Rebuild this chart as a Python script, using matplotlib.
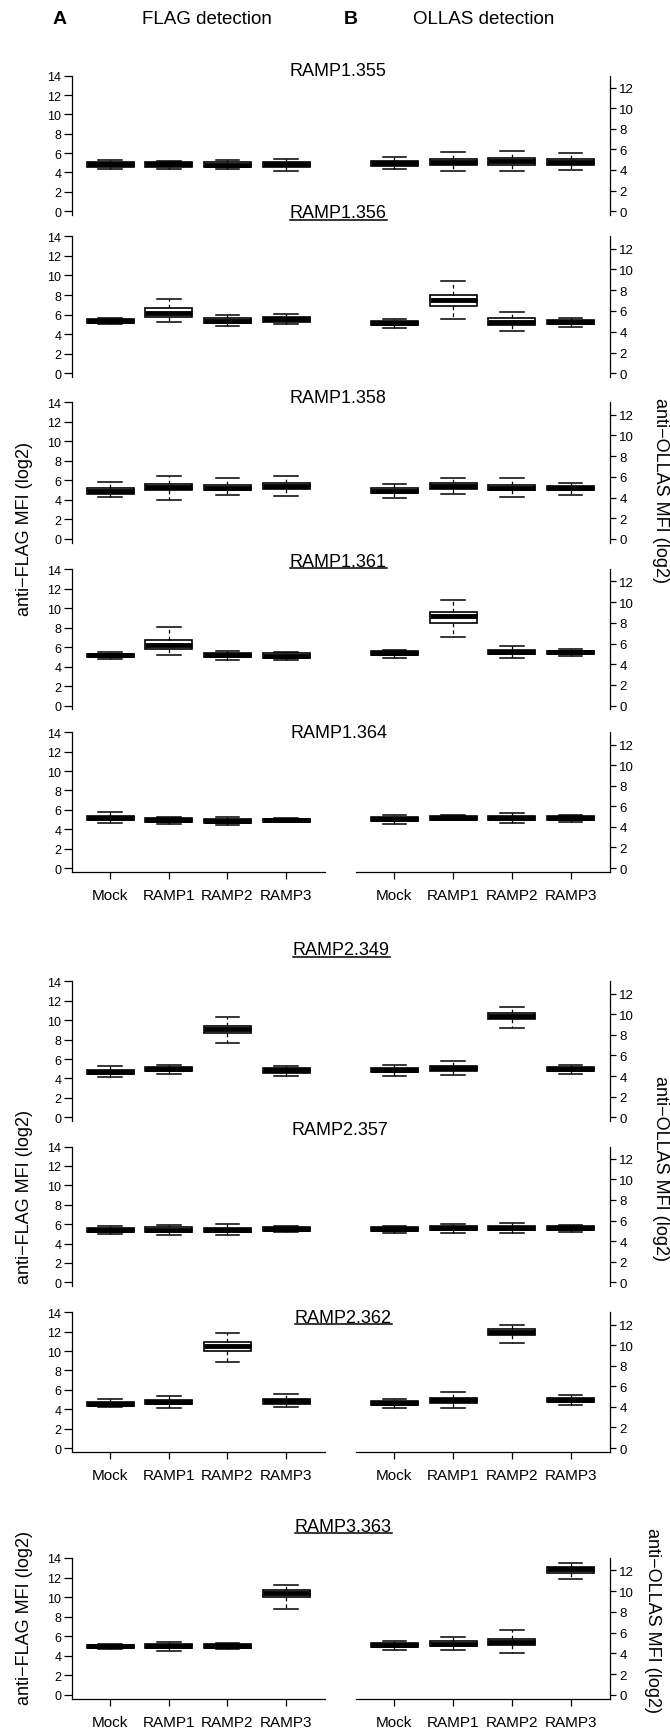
import matplotlib
matplotlib.use('Agg')
import matplotlib.pyplot as plt
from matplotlib.lines import Line2D

plt.rcParams['font.family'] = ['Liberation Sans', 'DejaVu Sans']

W, H = 670, 1731
groups = ['Mock', 'RAMP1', 'RAMP2', 'RAMP3']

# box stats per group: [lower whisker, Q1, median, Q3, upper whisker]
r1_355_flag = [[4.38, 4.60, 4.84, 5.08, 5.32], [4.36, 4.58, 4.82, 5.03, 5.20],
               [4.30, 4.57, 4.78, 5.03, 5.25], [4.16, 4.60, 4.82, 5.06, 5.37]]
r1_355_ollas = [[4.10, 4.42, 4.66, 4.87, 5.22], [3.90, 4.48, 4.80, 5.11, 5.74],
                [3.90, 4.50, 4.85, 5.15, 5.90], [4.00, 4.52, 4.82, 5.12, 5.63]]
r1_356_flag = [[5.01, 5.18, 5.38, 5.55, 5.69], [5.25, 5.79, 6.18, 6.64, 7.63],
               [4.84, 5.18, 5.38, 5.62, 5.96], [5.01, 5.28, 5.52, 5.76, 6.10]]
r1_356_ollas = [[4.34, 4.66, 4.86, 5.05, 5.27], [5.27, 6.46, 7.07, 7.52, 8.87],
                [4.12, 4.66, 4.98, 5.31, 5.88], [4.47, 4.76, 4.92, 5.11, 5.34]]
r1_358_flag = [[4.30, 4.57, 4.88, 5.19, 5.87], [4.03, 4.98, 5.29, 5.67, 6.49],
               [4.51, 4.98, 5.26, 5.53, 6.21], [4.37, 5.09, 5.43, 5.74, 6.42]]
r1_358_ollas = [[3.99, 4.44, 4.67, 4.92, 5.28], [4.34, 4.86, 5.12, 5.37, 5.89],
                [4.09, 4.70, 4.95, 5.21, 5.86], [4.28, 4.70, 4.89, 5.08, 5.44]]
r1_361_flag = [[4.78, 4.98, 5.16, 5.33, 5.46], [5.16, 5.77, 6.21, 6.73, 8.02],
               [4.71, 4.95, 5.19, 5.43, 5.63], [4.64, 4.88, 5.12, 5.36, 5.53]]
r1_361_ollas = [[4.63, 4.86, 5.08, 5.28, 5.41], [6.60, 8.01, 8.62, 9.04, 10.23],
                [4.60, 4.95, 5.18, 5.37, 5.79], [4.76, 4.99, 5.15, 5.31, 5.47]]
r1_364_flag = [[4.62, 4.93, 5.14, 5.38, 5.79], [4.52, 4.72, 4.93, 5.14, 5.24],
               [4.45, 4.66, 4.86, 5.10, 5.28], [4.72, 4.76, 4.93, 5.10, 5.21]]
r1_364_ollas = [[4.32, 4.61, 4.81, 5.00, 5.13], [4.68, 4.70, 4.87, 5.06, 5.13],
                [4.35, 4.65, 4.84, 5.03, 5.32], [4.48, 4.68, 4.87, 5.06, 5.19]]
r2_349_flag = [[4.15, 4.43, 4.67, 4.91, 5.28], [4.43, 4.74, 4.94, 5.15, 5.42],
               [7.69, 8.68, 9.06, 9.44, 10.36], [4.22, 4.60, 4.84, 5.04, 5.28]]
r2_349_ollas = [[3.97, 4.38, 4.61, 4.80, 5.12], [4.06, 4.51, 4.77, 5.02, 5.50],
                [8.70, 9.50, 9.82, 10.14, 10.66], [4.22, 4.45, 4.67, 4.86, 5.12]]
r2_357_flag = [[5.01, 5.21, 5.42, 5.62, 5.83], [4.83, 5.18, 5.42, 5.66, 5.86],
               [4.87, 5.14, 5.38, 5.59, 5.97], [5.21, 5.31, 5.52, 5.73, 5.83]]
r2_357_ollas = [[4.80, 5.00, 5.19, 5.35, 5.48], [4.80, 5.06, 5.25, 5.48, 5.64],
                [4.83, 5.09, 5.29, 5.48, 5.77], [4.90, 5.06, 5.25, 5.45, 5.61]]
r2_362_flag = [[4.27, 4.37, 4.58, 4.78, 5.06], [4.09, 4.51, 4.75, 4.99, 5.33],
               [8.84, 10.04, 10.49, 10.97, 11.90], [4.20, 4.54, 4.82, 5.06, 5.54]]
r2_362_ollas = [[3.92, 4.22, 4.41, 4.61, 4.77], [3.92, 4.41, 4.67, 4.90, 5.42],
                [10.22, 11.00, 11.29, 11.61, 11.97], [4.22, 4.44, 4.64, 4.83, 5.19]]
r3_363_flag = [[4.67, 4.77, 4.97, 5.14, 5.25], [4.53, 4.77, 5.01, 5.21, 5.45],
               [4.67, 4.80, 5.01, 5.21, 5.35], [8.79, 9.98, 10.42, 10.76, 11.24]]
r3_363_ollas = [[4.33, 4.59, 4.78, 4.97, 5.17], [4.33, 4.69, 4.94, 5.17, 5.61],
                [4.07, 4.81, 5.10, 5.42, 6.26], [11.13, 11.77, 12.10, 12.35, 12.70]]

# name, underlined, y of 14 tick, y of 0 tick, title (x, baseline) in px, x axis shown
panels = [
    ('RAMP1.355', False, 76.7, 212.0, (338, 76.0), False, r1_355_flag, r1_355_ollas),
    ('RAMP1.356', True, 237.3, 374.3, (338, 218.3), False, r1_356_flag, r1_356_ollas),
    ('RAMP1.358', False, 403.3, 540.0, (338, 403.3), False, r1_358_flag, r1_358_ollas),
    ('RAMP1.361', True, 570.0, 706.7, (338, 566.7), False, r1_361_flag, r1_361_ollas),
    ('RAMP1.364', False, 733.3, 869.0, (339, 738.3), True, r1_364_flag, r1_364_ollas),
    ('RAMP2.349', True, 982.3, 1118.3, (341, 955.0), False, r2_349_flag, r2_349_ollas),
    ('RAMP2.357', False, 1147.5, 1283.3, (340, 1135.0), False, r2_357_flag, r2_357_ollas),
    ('RAMP2.362', True, 1313.3, 1449.0, (343, 1322.7), True, r2_362_flag, r2_362_ollas),
    ('RAMP3.363', True, 1559.0, 1696.0, (343, 1531.7), True, r3_363_flag, r3_363_ollas),
]

# y label centers (x px, y px) for each block
flag_labels = [(25, 529), (25, 1197), (25, 1618)]
ollas_labels = [(660, 490), (660, 1169), (653, 1621)]

R_SCALE = 1.061  # right axis is slightly stretched compared to left


def to_stats(rows):
    return [dict(whislo=r[0], q1=r[1], med=r[2], q3=r[3], whishi=r[4], fliers=[]) for r in rows]


def draw_boxes(ax, rows):
    ax.bxp(to_stats(rows), positions=[1, 2, 3, 4], widths=0.8, capwidths=0.4,
           patch_artist=True, showfliers=False,
           boxprops=dict(facecolor='white', edgecolor='black', linewidth=1.2),
           medianprops=dict(color='black', linewidth=3.5, solid_capstyle='butt'),
           whiskerprops=dict(color='black', linewidth=0.9, linestyle=(0, (3, 2.5))),
           capprops=dict(color='black', linewidth=1.1))
    ax.set_xlim(0.34, 4.66)


def add_axes(x_px, w_px, top_px, bot_px):
    return fig.add_axes([x_px / W, 1 - bot_px / H, w_px / W, (bot_px - top_px) / H])


fig = plt.figure(figsize=(W / 100, H / 100), dpi=100)

titles = []
for name, under, y14, y0, (tx, base), xaxis, flag, ollas in panels:
    bot = y0 + 3.5
    axl = add_axes(71.5, 253.3, y14, bot)
    axr = add_axes(355.5, 254.0, y14, bot)
    draw_boxes(axl, flag)
    draw_boxes(axr, ollas)
    axl.set_ylim(-0.36, 14)
    axr.set_ylim(-0.36 / R_SCALE, 14 / R_SCALE)

    axl.set_yticks(range(0, 15, 2))
    axr.set_yticks(range(0, 13, 2))
    axr.yaxis.tick_right()
    axl.tick_params(axis='y', length=6, width=0.9, pad=1.2, labelsize=9)
    axr.tick_params(axis='y', length=4.5, width=0.9, pad=2.5, labelsize=9.5)

    for ax in (axl, axr):
        ax.spines['top'].set_visible(False)
        ax.spines['bottom'].set_visible(xaxis)
        ax.spines['bottom'].set_linewidth(0.9)
        ax.patch.set_visible(False)
        if xaxis:
            ax.set_xticks([1, 2, 3, 4], groups)
            ax.tick_params(axis='x', length=5.3, width=0.9, pad=6.5, labelsize=11)
        else:
            ax.set_xticks([])
    axl.spines['right'].set_visible(False)
    axl.spines['left'].set_linewidth(0.9)
    axr.spines['left'].set_visible(False)
    axr.spines['right'].set_linewidth(0.9)

    t = fig.text(tx / W, 1 - base / H, name, ha='center', va='baseline', fontsize=13)
    titles.append((t, under, base))

# headers
fig.text(60 / W, 1 - 20 / H, 'A', ha='center', va='center', fontsize=14, fontweight='bold')
fig.text(207 / W, 1 - 20 / H, 'FLAG detection', ha='center', va='center', fontsize=13.5)
fig.text(351 / W, 1 - 20 / H, 'B', ha='center', va='center', fontsize=14, fontweight='bold')
fig.text(484 / W, 1 - 20 / H, 'OLLAS detection', ha='center', va='center', fontsize=13.5)

for x, y in flag_labels:
    fig.text(x / W, 1 - y / H, 'anti\u2212FLAG MFI (log2)', rotation=90,
             ha='center', va='center', fontsize=13)
for x, y in ollas_labels:
    fig.text(x / W, 1 - y / H, 'anti\u2212OLLAS MFI (log2)', rotation=270,
             ha='center', va='center', fontsize=13)

# underline some titles
fig.canvas.draw()
renderer = fig.canvas.get_renderer()
for t, under, base in titles:
    if not under:
        continue
    bb = t.get_window_extent(renderer)
    y = 1 - (base + 2.5) / H
    fig.add_artist(Line2D([bb.x0 / W, bb.x1 / W], [y, y], color='black', linewidth=1.1,
                          transform=fig.transFigure))

fig.savefig('out.png', dpi=100)
